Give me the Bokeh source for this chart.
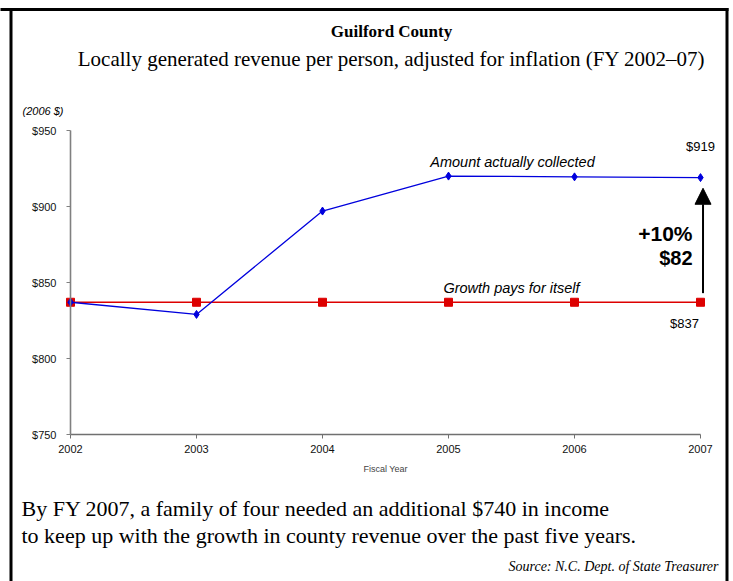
from bokeh.plotting import figure
from bokeh.models import (Range1d, Label, Arrow, NormalHead, BoxAnnotation,
                          FixedTicker, NumeralTickFormatter)
from bokeh.embed import file_html
from bokeh.resources import INLINE

# ---- data ----
years = [2002, 2003, 2004, 2005, 2006, 2007]
collected = [837, 829, 897, 920, 919.5, 919]
growth_pays = [837, 837, 837, 837, 837, 837]
y_ticks = [750, 800, 850, 900, 950]
pct_change = "+10%"
dollar_change = "$82"

title_txt = "Guilford County"
subtitle_txt = "Locally generated revenue per person, adjusted for inflation (FY 2002\u201307)"
note1 = "By FY 2007, a family of four needed an additional $740 in income"
note2 = "to keep up with the growth in county revenue over the past five years."
source_txt = "Source: N.C. Dept. of State Treasurer"

W, H = 733, 581
# plot area in page pixels
PX_L, PX_R, PX_T, PX_B = 70, 700, 130, 434
xs = (PX_R - PX_L) / (years[-1] - years[0])
ys = (PX_B - PX_T) / (y_ticks[-1] - y_ticks[0])

p = figure(width=W, height=H, output_backend="svg", toolbar_location=None,
           x_range=Range1d(years[0] - PX_L / xs, years[-1] + (W - PX_R) / xs),
           y_range=Range1d(y_ticks[0] - (H - PX_B) / ys, y_ticks[-1] + PX_T / ys),
           min_border_left=0, min_border_right=0,
           min_border_top=0, min_border_bottom=0)
p.grid.visible = False
p.outline_line_color = None
p.background_fill_color = "white"
p.border_fill_color = "white"

SANS = "Liberation Sans"
SERIF = "Liberation Serif"

# axes
xa = p.xaxis[0]
xa.ticker = FixedTicker(ticks=years)
xa.bounds = (years[0], years[-1])
xa.fixed_location = y_ticks[0]
xa.axis_line_color = "#707070"
xa.axis_line_width = 1.3
xa.major_tick_line_color = "#707070"
xa.major_tick_in = 0
xa.major_tick_out = 4
xa.minor_tick_line_color = None
xa.major_label_text_font = SANS
xa.major_label_text_font_size = "11px"
xa.major_label_text_color = "#111111"
xa.major_label_standoff = 6
xa.axis_label = "Fiscal Year"
xa.axis_label_text_font = SANS
xa.axis_label_text_font_size = "9px"
xa.axis_label_text_font_style = "normal"
xa.axis_label_standoff = 8

ya = p.yaxis[0]
ya.ticker = FixedTicker(ticks=y_ticks)
ya.bounds = (y_ticks[0], y_ticks[-1])
ya.formatter = NumeralTickFormatter(format="$0")
ya.fixed_location = years[0]
ya.axis_line_color = "#808080"
ya.axis_line_width = 1.6
ya.major_tick_line_color = "#808080"
ya.major_tick_in = 0
ya.major_tick_out = 4
ya.minor_tick_line_color = None
ya.major_label_text_font = SANS
ya.major_label_text_font_size = "11px"
ya.major_label_text_color = "#111111"
ya.major_label_standoff = 10

# series
p.line(years, growth_pays, line_color="#DD0000", line_width=1.3)
p.scatter(years, growth_pays, marker="square", size=8, fill_color="#DD0000",
          line_color="#DD0000")
p.line(years, collected, line_color="#0000DD", line_width=1.3)
p.scatter(years, collected, marker="diamond", size=8, fill_color="#0000DD",
          line_color="#0000DD")

# arrow between the two final values
p.add_layout(Arrow(end=NormalHead(size=16, fill_color="black", line_color="black"),
                   x_start=years[-1] + 0.02, y_start=growth_pays[-1] + 6,
                   x_end=years[-1] + 0.02, y_end=collected[-1] - 7,
                   line_color="black", line_width=2))


def lab(x, y, text, font=SANS, size="12px", style="normal", align="left",
        baseline="middle", color="black"):
    # x, y given in page pixels from the top-left corner
    p.add_layout(Label(x=x, y=H - y, x_units="screen", y_units="screen", text=text,
                       text_font=font, text_font_size=size, text_font_style=style,
                       text_align=align, text_baseline=baseline, text_color=color))


lab(391, 31, title_txt, font=SERIF, size="17px", style="bold", align="center")
lab(391, 58, subtitle_txt, font=SERIF, size="21px", align="center")
lab(22, 110, "(2006 $)", size="11px", style="italic")
lab(512, 161, "Amount actually collected", size="14.5px", style="italic", align="center")
lab(700, 146, "$%d" % round(collected[-1]), size="13px", align="center")
lab(511, 287, "Growth pays for itself", size="14.5px", style="italic", align="center")
lab(684, 323, "$%d" % growth_pays[-1], size="13px", align="center")
lab(692, 233, pct_change, size="21px", style="bold", align="right")
lab(692, 257, dollar_change, size="20px", style="bold", align="right")
lab(21, 508, note1, font=SERIF, size="22px")
lab(21, 535, note2, font=SERIF, size="22px")
lab(718, 566, source_txt, font=SERIF, size="14px", style="italic", align="right")


def bar(l, r, t, b):
    # page pixel box -> screen units (y up from bottom)
    p.add_layout(BoxAnnotation(left=l, right=r, top=H - t, bottom=H - b,
                               left_units="screen", right_units="screen",
                               top_units="screen", bottom_units="screen",
                               fill_color="black", fill_alpha=1.0,
                               line_color=None))


bar(-5, 728, 7.5, 10.5)      # top rule
bar(9, 12, 7.5, H + 10)      # left rule
bar(725, 728, 7.5, H + 10)   # right rule

open("out.html", "w").write(file_html(p, INLINE))
